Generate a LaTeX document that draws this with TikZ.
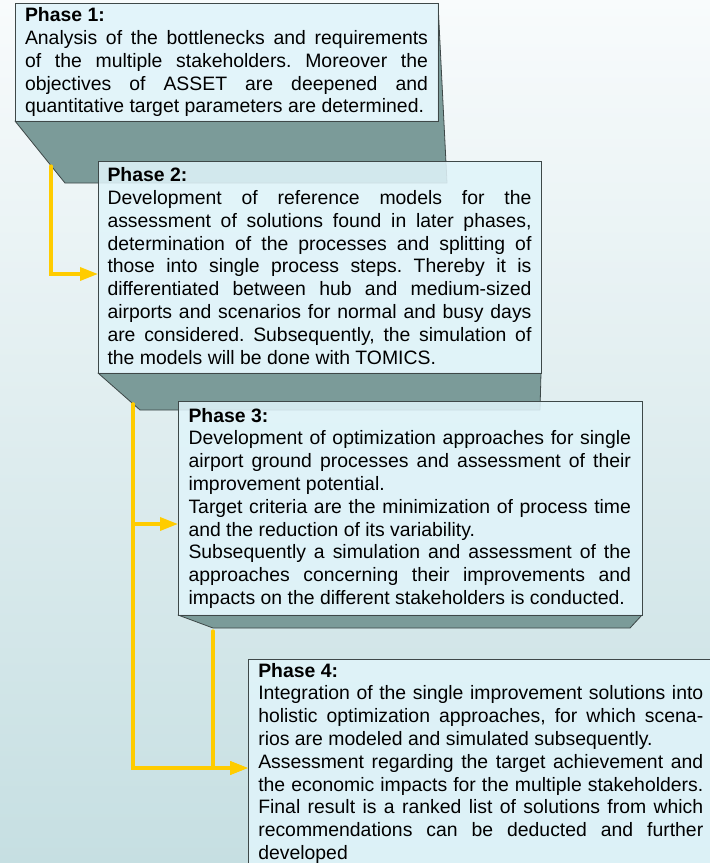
\documentclass[tikz,border=0pt]{standalone}
\usepackage{fontspec}
\setmainfont{Liberation Sans}
\usetikzlibrary{arrows.meta}
\definecolor{bgtop}{HTML}{F8FBFC}
\definecolor{bgbot}{HTML}{C6DFE2}
\definecolor{frontfill}{HTML}{E0F4FA}
\definecolor{extgray}{HTML}{7B9B99}
\definecolor{edge}{HTML}{3E4848}
\definecolor{gold}{HTML}{FFCC00}
\begin{document}
\begin{tikzpicture}[x=1pt,y=-1pt,
  front/.style={draw=edge, line width=0.9pt, fill=frontfill, fill opacity=0.87,
    inner sep=0pt, outer sep=0pt, anchor=north west},
  ext/.style={fill=extgray, draw=edge, line width=0.8pt, line join=round},
  body/.style={anchor=north west, inner sep=0pt, outer sep=0pt, align=justify,
    font={\fontsize{19.4}{22.8}\selectfont\parindent=0pt\frenchspacing\tolerance=10000\hyphenpenalty=10000\exhyphenpenalty=10000}},
  arr/.style={draw=gold, line width=3.3pt, line cap=round,
    -{Triangle[length=18pt,width=13pt]}}]
\useasboundingbox (0,0) rectangle (710,863);
\clip (0,0) rectangle (710,863);
\shade[top color=bgtop, bottom color=bgbot] (0,0) rectangle (710,863);

% Phase 1
\draw[ext] (15,121) -- (438,121) -- (438,3.3) -- (447,183) -- (65,183) -- cycle;
\node[front, minimum width=423pt, minimum height=117.7pt] (p1) at (15,3.3) {};
\node[body, text width=403pt] (t1) at (25,6.7) {\rule{0pt}{15pt}\textbf{Phase 1:}\newline
Analysis of the bottlenecks and requirements\linebreak
of the multiple stakeholders. Moreover the\linebreak
objectives of ASSET are deepened and\linebreak
quantitative target parameters are determined.};

% Phase 2
\draw[ext] (98,373) -- (541,373) -- (540,410) -- (140,410) -- cycle;
\node[front, minimum width=443pt, minimum height=212pt] (p2) at (98,161) {};
\node[body, text width=424pt] (t2) at (107.5,166.7) {\rule{0pt}{15pt}\textbf{Phase 2:}\newline
Development of reference models for the\linebreak
assessment of solutions found in later phases,\linebreak
determination of the processes and splitting of\linebreak
those into single process steps. Thereby it is\linebreak
differentiated between hub and medium-sized\linebreak
airports and scenarios for normal and busy days\linebreak
are considered. Subsequently, the simulation of\linebreak
the models will be done with TOMICS.};

% Phase 3
\draw[ext] (178,615) -- (642,615) -- (630,628) -- (213,628) -- cycle;
\node[front, minimum width=464pt, minimum height=214pt] (p3) at (178,401) {};
\node[body, text width=442.5pt] (t3) at (188.5,407) {\rule{0pt}{15pt}\textbf{Phase 3:}\newline
Development of optimization approaches for single\linebreak
airport ground processes and assessment of their\linebreak
improvement potential.\newline
Target criteria are the minimization of process time\linebreak
and the reduction of its variability.\newline
Subsequently a simulation and assessment of the\linebreak
approaches concerning their improvements and\linebreak
impacts on the different stakeholders is conducted.};

% Phase 4
\node[front, minimum width=472pt, minimum height=218pt] (p4) at (248,659) {};
\node[body, text width=445pt] (t4) at (258.3,662) {\rule{0pt}{15pt}\textbf{Phase 4:}\newline
Integration of the single improvement solutions into\linebreak
holistic optimization approaches, for which scena-\linebreak
rios are modeled and simulated subsequently.\newline
Assessment regarding the target achievement and\linebreak
the economic impacts for the multiple stakeholders.\linebreak
Final result is a ranked list of solutions from which\linebreak
recommendations can be deducted and further\linebreak
developed};

% connectors
\coordinate (a1) at (51,166);
\coordinate (a2) at (133,404);
\coordinate (a3) at (213,631);
\draw[arr] (a1) |- ([yshift=-7pt]p2.west);
\draw[arr] (a2) |- ([yshift=-16pt]p3.west);
\draw[arr] (a2) |- (p4.west);
\draw[arr] (a3) |- (p4.west);
\end{tikzpicture}
\end{document}
